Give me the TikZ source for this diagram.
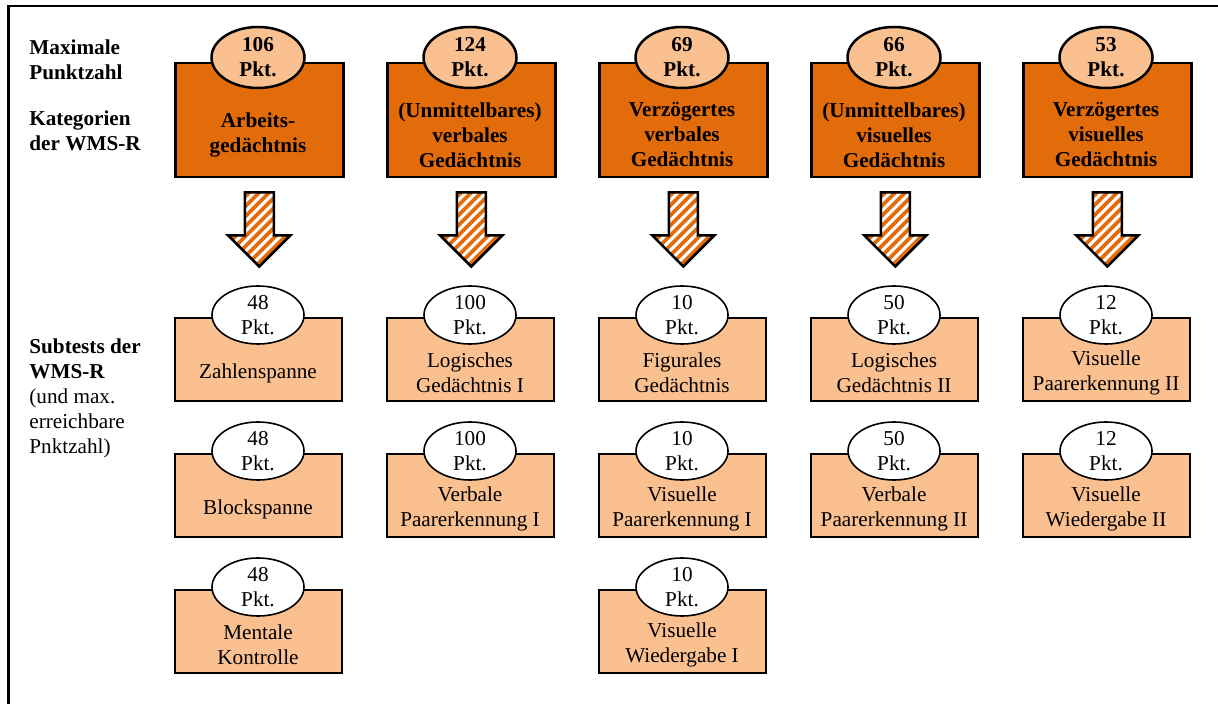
\documentclass[tikz,border=0pt]{standalone}
\usepackage{fontspec}
\setmainfont{Liberation Serif}
\usetikzlibrary{shapes.geometric,calc}
\definecolor{catorange}{HTML}{E36C0A}
\definecolor{subpeach}{HTML}{FAC090}

\tikzset{
  basefont/.style={font=\fontsize{10.6pt}{12.5pt}\selectfont},
  catbox/.style={draw, line width=1.25pt, fill=catorange, minimum width=84pt,
    minimum height=57pt, anchor=north west},
  subbox/.style={draw, line width=0.85pt, fill=subpeach, minimum width=83.5pt,
    minimum height=41.5pt, anchor=north west},
  catpts/.style={ellipse, draw, line width=1.25pt, fill=subpeach, minimum width=46.5pt,
    minimum height=30.5pt, align=center, font=\fontsize{10.6pt}{12.5pt}\selectfont\bfseries},
  subpts/.style={ellipse, draw, line width=0.8pt, fill=white, minimum width=46pt,
    minimum height=29pt, align=center},
  cattext/.style={align=center, font=\fontsize{10.6pt}{12.5pt}\selectfont\bfseries},
  subtext/.style={align=center},
  sidelabel/.style={align=left, anchor=north west},
  stripe/.style={catorange, line width=1.8pt},
  downarrow/.pic={
    \begin{scope}
      \clip (-14.5,0) -- (14.5,0) -- (14.5,43) -- (31,43) -- (0,74) -- (-31,43)
        -- (-14.5,43) -- cycle;
      \fill[white] (-35,-2) rectangle (35,78);
      \foreach \k in {-8,...,8} \draw[stripe] (\k*10-45,85) -- (\k*10+45,-5);
    \end{scope}
    \draw[line width=1.25pt, line join=miter] (-14.5,0) -- (14.5,0) -- (14.5,43)
      -- (31,43) -- (0,74) -- (-31,43) -- (-14.5,43) -- cycle;
  }
}

\begin{document}
\begin{tikzpicture}[x=0.5pt, y=-0.5pt, every node/.style={inner sep=0pt, basefont}]
  \useasboundingbox (0,0) rectangle (1218,704);

  % frame (open to the right and bottom)
  \draw[line width=1.3pt] (8.7,704) -- (8.7,6) -- (1218,6);

  % row headings
  \node[sidelabel] (headmax) at (29,39) {\textbf{Maximale}\\\textbf{Punktzahl}};
  \node[sidelabel] (headcat) at (29,110) {\textbf{Kategorien}\\\textbf{der WMS-R}};
  \node[sidelabel] (headsub) at (29,338)
    {\textbf{Subtests der}\\\textbf{WMS-R}\\(und max.\\erreichbare\\Pnktzahl)};

  % categories with maximal scores and arrows to the subtests
  \foreach \i/\x/\pts/\txt in {
      1/174/106/{Arbeits-\\gedächtnis},
      2/386/124/{(Unmittelbares)\\verbales\\Gedächtnis},
      3/598/69/{Verzögertes\\verbales\\Gedächtnis},
      4/810/66/{(Unmittelbares)\\visuelles\\Gedächtnis},
      5/1022/53/{Verzögertes\\visuelles\\Gedächtnis}} {
    \node[catbox] (cat\i) at (\x,62) {};
    \node[catpts] (catpts\i) at (\x+84,57.5) {\pts\\Pkt.};
    \node[cattext] (cattxt\i) at (\x+84,135) {\txt};
    \pic at ($(cat\i.south)+(0,14)$) {downarrow};
  }

  % subtests
  \foreach \n/\x/\y/\pts/\txt in {
      11/174/317/48/{Zahlenspanne},
      12/174/453/48/{Blockspanne},
      13/174/589/48/{Mentale\\Kontrolle},
      21/386/317/100/{Logisches\\Gedächtnis I},
      22/386/453/100/{Verbale\\Paarerkennung I},
      31/598/317/10/{Figurales\\Gedächtnis},
      32/598/453/10/{Visuelle\\Paarerkennung I},
      33/598/589/10/{Visuelle\\Wiedergabe I},
      41/810/317/50/{Logisches\\Gedächtnis II},
      42/810/453/50/{Verbale\\Paarerkennung II},
      51/1022/317/12/{Visuelle\\Paarerkennung II},
      52/1022/453/12/{Visuelle\\Wiedergabe II}} {
    \node[subbox] (sub\n) at (\x,\y) {};
    \node[subpts] (subpts\n) at (\x+84,\y-2) {\pts\\Pkt.};
    \node[subtext] (subtxt\n) at (\x+84,\y+56) {\txt};
  }
\end{tikzpicture}
\end{document}
